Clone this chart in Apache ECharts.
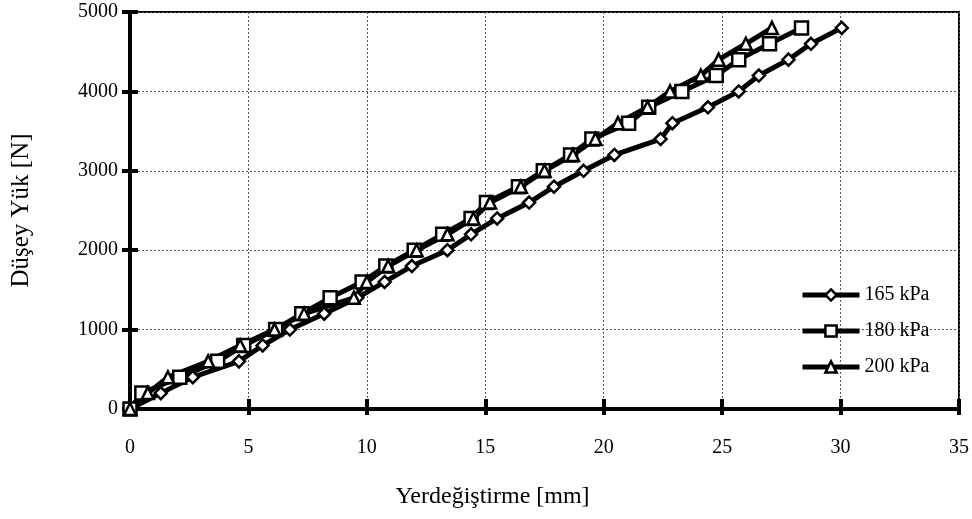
<!DOCTYPE html>
<html><head><meta charset="utf-8">
<script src="https://cdn.jsdelivr.net/npm/echarts@6/dist/echarts.min.js"></script>
<style>html,body{margin:0;padding:0;background:#fff}#c{width:972px;height:519px}</style>
</head><body><div id="c"></div>
<script>
const seriesNames = ['165 kPa', '180 kPa', '200 kPa'];
const loads = [0,200,400,600,800,1000,1200,1400,1600,1800,2000,2200,2400,2600,2800,3000,3200,3400,3600,3800,4000,4200,4400,4600,4800];
const disp165 = [0,1.3,2.65,4.6,5.6,6.75,8.2,9.6,10.75,11.9,13.4,14.4,15.5,16.85,17.9,19.15,20.45,22.4,22.9,24.4,25.7,26.55,27.8,28.75,30.05];
const disp180 = [0,0.5,2.1,3.7,4.8,6.15,7.25,8.45,9.8,10.8,12.0,13.2,14.4,15.05,16.4,17.45,18.6,19.5,21.05,21.9,23.3,24.75,25.7,27.0,28.35];
const disp200 = [0,0.75,1.6,3.3,4.65,6.1,7.35,9.45,10.0,10.9,12.1,13.4,14.5,15.2,16.5,17.5,18.7,19.65,20.6,21.85,22.8,24.1,24.85,26.0,27.1];
const xTicks = [0,5,10,15,20,25,30,35];
const yTicks = [0,1000,2000,3000,4000,5000];

const pairs = d => d.map((x,i)=>[x, loads[i]]);
const font = 'Liberation Serif';
const chart = echarts.init(document.getElementById('c'), null, {renderer:'canvas'});
const mk = (name, data, symbol, size) => ({
  name, type:'line', data: pairs(data), symbol, symbolSize: size,
  lineStyle:{color:'#000', width:5},
  itemStyle:{color:'#fff', borderColor:'#000', borderWidth:2.5},
  emphasis:{disabled:true}, animation:false, z: 3
});
chart.setOption({
  animation:false,
  backgroundColor:'#fff',
  grid:{left:130, right:13, top:12, bottom:110, show:true, borderColor:'#000', borderWidth:2, backgroundColor:'transparent'},
  legend:{
    orient:'vertical', left:795, top:280, itemGap:16,
    itemWidth:57, itemHeight:14,
    lineStyle:{width:5, color:'#000'},
    itemStyle:{color:'#fff', borderColor:'#000', borderWidth:2.5},
    textStyle:{fontFamily:font, fontSize:20, color:'#000'},
    data: seriesNames
  },
  xAxis:[{
    type:'value', min:0, max:35, interval:5,
    name:'Yerdeğiştirme [mm]', nameLocation:'middle', nameGap:76,
    nameTextStyle:{fontFamily:font, fontSize:24, color:'#000', padding:[0,104,0,0]},
    axisLine:{lineStyle:{color:'#000', width:4}},
    axisTick:{show:true, length:6, lineStyle:{color:'#000', width:4}},
    axisLabel:{fontFamily:font, fontSize:20, color:'#000', margin:29,
      formatter: v => xTicks.includes(v) ? String(v) : ''},
    splitLine:{show:true, lineStyle:{color:'#555', width:1, type:[2,2]}}
  },{
    type:'value', min:0, max:35, interval:5, position:'bottom',
    axisLine:{show:false}, axisLabel:{show:false}, splitLine:{show:false},
    axisTick:{show:true, inside:true, length:10, lineStyle:{color:'#000', width:4}}
  }],
  yAxis:[{
    type:'value', min:0, max:5000, interval:1000,
    name:'Düşey Yük [N]', nameLocation:'middle', nameGap:96,
    nameTextStyle:{fontFamily:font, fontSize:25, color:'#000'},
    axisLine:{lineStyle:{color:'#000', width:4}},
    axisTick:{show:true, length:8, lineStyle:{color:'#000', width:4}},
    axisLabel:{fontFamily:font, fontSize:20, color:'#000', margin:12,
      formatter: v => yTicks.includes(v) ? String(v) : ''},
    splitLine:{show:true, lineStyle:{color:'#555', width:1, type:[2,2]}}
  },{
    type:'value', min:0, max:5000, interval:1000, position:'left',
    axisLine:{show:false}, axisLabel:{show:false}, splitLine:{show:false},
    axisTick:{show:true, inside:true, length:8, lineStyle:{color:'#000', width:4}}
  }],
  series:[
    mk(seriesNames[0], disp165, 'diamond', 12),
    mk(seriesNames[1], disp180, 'rect', 13),
    mk(seriesNames[2], disp200, 'triangle', 12)
  ]
});
</script></body></html>
